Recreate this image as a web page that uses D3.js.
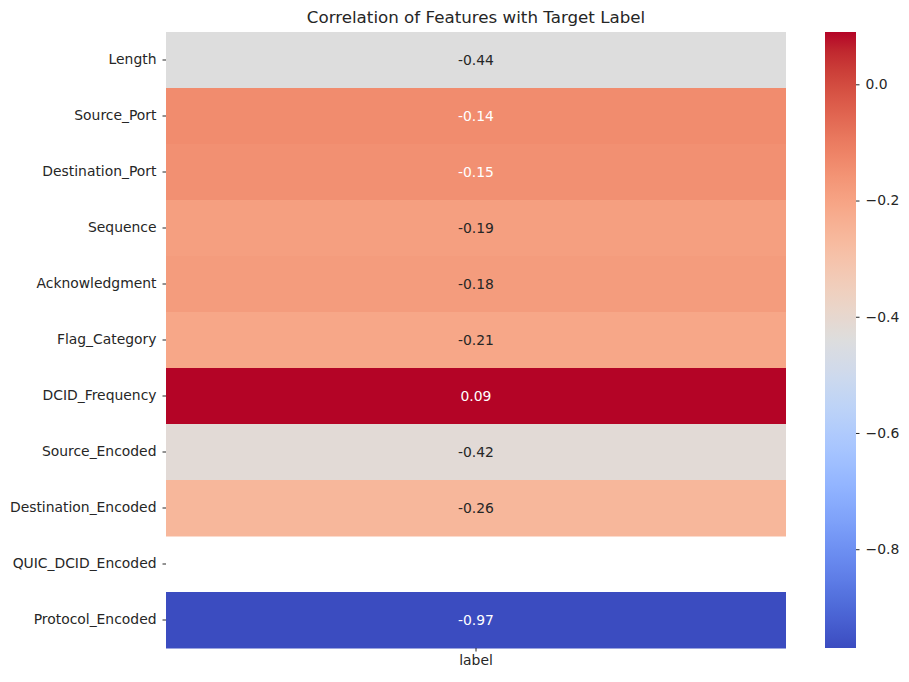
<!DOCTYPE html>
<html>
<head>
<meta charset="utf-8">
<script src="https://cdn.jsdelivr.net/npm/d3@7"></script>
<style>
  body { margin: 0; background: #fff; }
  text { font-family: "DejaVu Sans", sans-serif; fill: #262626; }
</style>
</head>
<body>
<svg id="chart"></svg>
<script>
/* ===============================
   Data
================================ */

const features = [
  "Length", "Source_Port", "Destination_Port", "Sequence", "Acknowledgment",
  "Flag_Category", "DCID_Frequency", "Source_Encoded", "Destination_Encoded",
  "QUIC_DCID_Encoded", "Protocol_Encoded"
];
const columns = ["label"];
const corrValues = [-0.44, -0.14, -0.15, -0.19, -0.18, -0.21, 0.09, -0.42, -0.26, null, -0.97];
const cbarTicks = [0.0, -0.2, -0.4, -0.6, -0.8];

/* matplotlib coolwarm (Moreland table, 33 stops) */
const COOLWARM = [
  [59,76,192],[68,90,204],[77,104,215],[87,117,225],[98,130,234],[108,142,241],
  [119,154,247],[130,165,251],[141,176,254],[152,185,255],[163,194,255],[174,201,253],
  [184,208,249],[194,213,244],[204,217,238],[213,219,230],[221,221,221],[229,216,209],
  [236,211,197],[241,204,185],[245,196,173],[247,187,160],[247,177,148],[247,166,135],
  [244,154,123],[241,141,111],[236,127,99],[229,112,88],[222,96,77],[213,80,66],
  [203,62,56],[192,40,47],[180,4,38]
].map(c => d3.rgb(c[0], c[1], c[2]).toString());

/* ===============================
   Layout
================================ */

const W = 909, H = 682;
const plot = { left: 166, right: 786, top: 32, bottom: 648 };
const cbar = { left: 825, right: 856 };
const FONT = "13.9px";

const svg = d3.select("#chart").attr("width", W).attr("height", H);

const finite = corrValues.filter(v => v !== null);
const vmin = d3.min(finite), vmax = d3.max(finite);

const interp = d3.piecewise(d3.interpolateRgb, COOLWARM);
const color = d3.scaleSequential(interp).domain([vmin, vmax]);

const x = d3.scaleBand().domain(columns).range([plot.left, plot.right]);
const y = d3.scaleBand().domain(features).range([plot.top, plot.bottom]);

/* ===============================
   Cells
================================ */

const cells = features.map((f, i) => ({ feature: f, col: columns[0], value: corrValues[i] }));

svg.append("g").selectAll("rect")
  .data(cells.filter(d => d.value !== null))
  .join("rect")
  .attr("x", d => x(d.col))
  .attr("y", d => y(d.feature))
  .attr("width", x.bandwidth())
  .attr("height", y.bandwidth() + 0.5)
  .attr("fill", d => color(d.value));

function luminance(c) {
  const rgb = d3.rgb(c);
  const lin = v => {
    v /= 255;
    return v <= 0.03928 ? v / 12.92 : Math.pow((v + 0.055) / 1.055, 2.4);
  };
  return 0.2126 * lin(rgb.r) + 0.7152 * lin(rgb.g) + 0.0722 * lin(rgb.b);
}

svg.append("g").selectAll("text")
  .data(cells.filter(d => d.value !== null))
  .join("text")
  .attr("x", d => x(d.col) + x.bandwidth() / 2)
  .attr("y", d => y(d.feature) + y.bandwidth() / 2)
  .attr("dy", "0.35em")
  .attr("text-anchor", "middle")
  .style("font-size", FONT)
  .style("fill", d => luminance(color(d.value)) > 0.408 ? "#262626" : "#ffffff")
  .text(d => d.value.toFixed(2));

/* ===============================
   Axes
================================ */

const yAxis = svg.append("g")
  .attr("transform", `translate(${plot.left},0)`)
  .call(d3.axisLeft(y).tickSize(3.5).tickPadding(6));
yAxis.select(".domain").remove();
yAxis.selectAll("line").attr("stroke", "#262626");
yAxis.selectAll("text").style("font-size", FONT).attr("font-family", null);

const xAxis = svg.append("g")
  .attr("transform", `translate(0,${plot.bottom})`)
  .call(d3.axisBottom(x).tickSize(3.5).tickPadding(4));
xAxis.select(".domain").remove();
xAxis.selectAll("line").attr("stroke", "#262626");
xAxis.selectAll("text").style("font-size", FONT).attr("font-family", null);

svg.append("text")
  .attr("x", (plot.left + plot.right) / 2)
  .attr("y", 23)
  .attr("text-anchor", "middle")
  .style("font-size", "16.7px")
  .text("Correlation of Features with Target Label");

/* ===============================
   Colorbar
================================ */

const defs = svg.append("defs");
const grad = defs.append("linearGradient")
  .attr("id", "cbarGrad")
  .attr("x1", 0).attr("y1", 1).attr("x2", 0).attr("y2", 0);
grad.selectAll("stop")
  .data(d3.range(0, 1.0001, 1 / 64))
  .join("stop")
  .attr("offset", t => t)
  .attr("stop-color", t => interp(t));

svg.append("rect")
  .attr("x", cbar.left)
  .attr("y", plot.top)
  .attr("width", cbar.right - cbar.left)
  .attr("height", plot.bottom - plot.top)
  .attr("fill", "url(#cbarGrad)");

const cScale = d3.scaleLinear().domain([vmin, vmax]).range([plot.bottom, plot.top]);
const cAxis = svg.append("g")
  .attr("transform", `translate(${cbar.right},0)`)
  .call(d3.axisRight(cScale)
    .tickValues(cbarTicks)
    .tickSize(3.5)
    .tickPadding(6)
    .tickFormat(d => Math.abs(d).toFixed(1) === "0.0" ? "0.0" : "\u2212" + Math.abs(d).toFixed(1)));
cAxis.select(".domain").remove();
cAxis.selectAll("line").attr("stroke", "#262626");
cAxis.selectAll("text").style("font-size", FONT).attr("font-family", null);
</script>
</body>
</html>
